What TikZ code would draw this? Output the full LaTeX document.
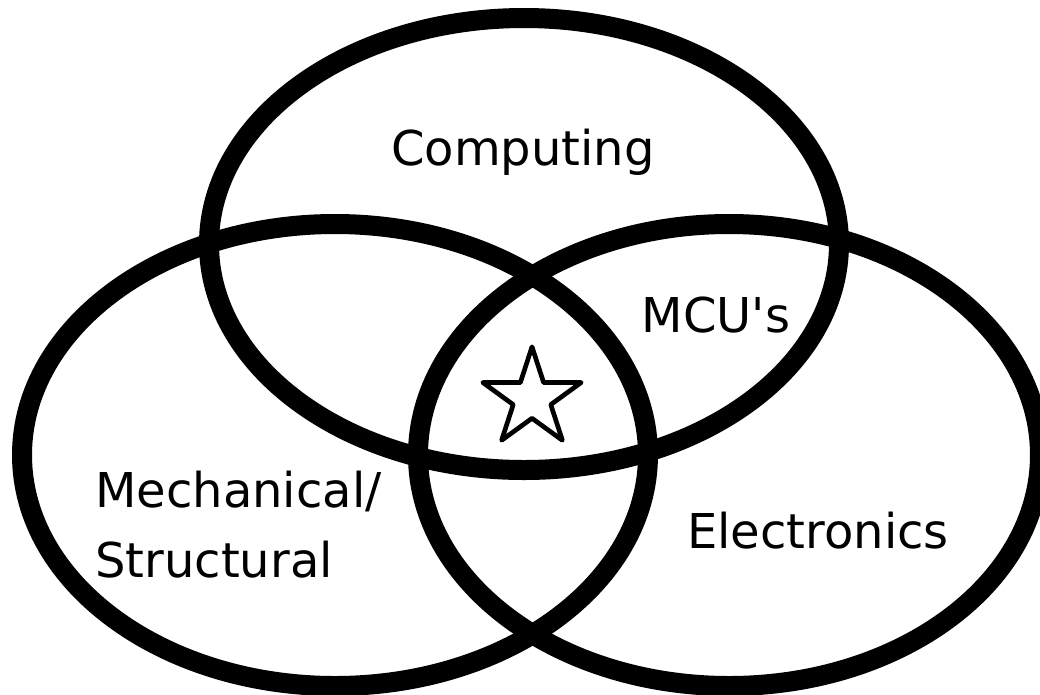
\documentclass[tikz,border=0pt]{standalone}
\usepackage{fontspec}
\newfontfamily\dejavu{DejaVu Sans}
\begin{document}
\begin{tikzpicture}[x=0.75pt,y=-0.75pt,
  ring/.style={draw=black,line width=15pt},
  lbl/.style={inner sep=0pt,font=\dejavu\fontsize{36}{52.5}\selectfont},
  starline/.style={draw=black,line width=3.5pt,line join=round}]
\useasboundingbox (0,0) rectangle (1040,694);
% three sets
\draw[ring] (524,244) ellipse [x radius=315, y radius=226];
\draw[ring] (335,455) ellipse [x radius=313, y radius=231];
\draw[ring] (729,455) ellipse [x radius=311, y radius=231];
% labels
\node[lbl,anchor=base] (comp) at (523,165) {Computing};
\node[lbl,anchor=base] (mcu) at (716,332) {MCU's};
\node[lbl,anchor=base] (elec) at (818,548) {Electronics};
\node[lbl,anchor=base west,align=left] (mech) at (95,577) {Mechanical/\\Structural};
% star in the middle
\coordinate (starc) at (532,398.5);
\draw[starline] plot[samples at={0,...,9}]
  ({532+(51.7*(mod(\x,2)==0)+19.75*(mod(\x,2)==1))*cos(-90+36*\x)},
   {398.5+(51.7*(mod(\x,2)==0)+19.75*(mod(\x,2)==1))*sin(-90+36*\x)}) -- cycle;
\end{tikzpicture}
\end{document}
